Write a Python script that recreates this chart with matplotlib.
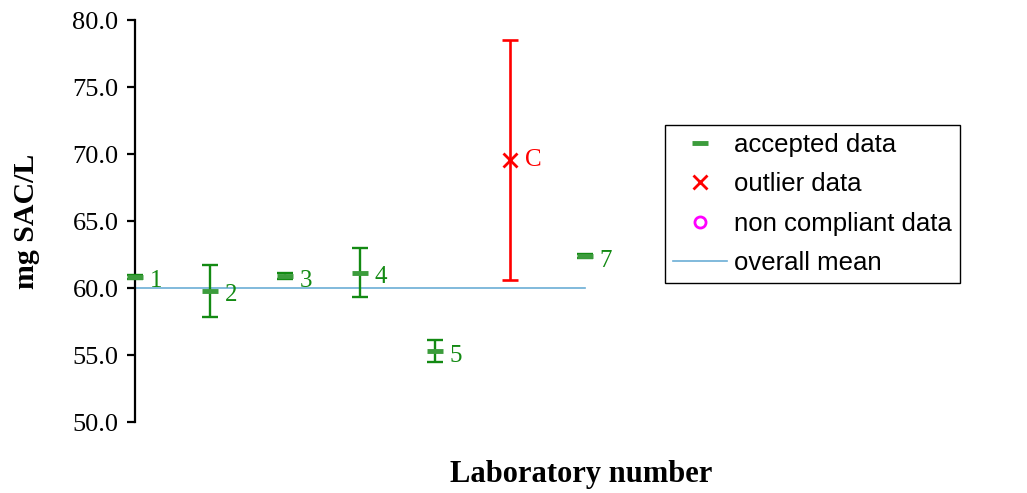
import matplotlib
matplotlib.use("Agg")
import matplotlib.pyplot as plt
from matplotlib.lines import Line2D

# Laboratory results (mg SAC/L) with their reported uncertainties
labs = ["1", "2", "3", "4", "5", "C", "7"]
values = [60.85, 59.8, 60.9, 61.15, 55.3, 69.55, 62.4]
uncert = [0.15, 1.95, 0.25, 1.85, 0.85, 8.95, 0.15]
outlier = [False, False, False, False, False, True, False]
overall_mean = 60.0

SERIF = "Liberation Serif"
SANS = "Liberation Sans"
GREEN_BAR = "#138a13"
GREEN_MARK = "#3c9c3c"

fig = plt.figure(figsize=(10.27, 4.93), dpi=100)
ax = fig.add_axes([0.1315, 0.144, 0.8685, 0.815])

xs = list(range(1, len(labs) + 1))
for x, v, u, lab, out in zip(xs, values, uncert, labs, outlier):
    if out:
        ax.errorbar(x, v, yerr=u, fmt="none", ecolor="#ff0000",
                    elinewidth=1.9, capsize=6, capthick=1.9, zorder=3,
                    clip_on=False)
        ax.plot(x, v, marker="x", color="#ff0000", markersize=10,
                markeredgewidth=2, linestyle="none", zorder=4)
        ax.text(x + 0.2, v, lab, color="#ff0000", fontsize=18,
                family=SERIF, va="center", ha="left")
    else:
        ax.errorbar(x, v, yerr=u, fmt="none", ecolor=GREEN_BAR,
                    elinewidth=1.7, capsize=6, capthick=1.7, zorder=3,
                    clip_on=False)
        ax.plot(x, v, marker="_", color=GREEN_MARK, markersize=11.5,
                markeredgewidth=3.5, linestyle="none", zorder=4,
                clip_on=False)
        ax.text(x + 0.2, v - 0.35, lab, color=GREEN_BAR, fontsize=18,
                family=SERIF, va="center", ha="left")

# overall mean across the participating labs
ax.plot([xs[0], xs[-1]], [overall_mean, overall_mean], color="#6baed6",
        linewidth=1.2, zorder=2)

ax.set_xlim(1, 12.9)
ax.set_ylim(50, 80)
ax.set_yticks([50, 55, 60, 65, 70, 75, 80])
ax.set_yticklabels([f"{t:.1f}" for t in ax.get_yticks()],
                   family=SERIF, fontsize=19)
ax.set_xticks([])
for s in ["top", "right", "bottom"]:
    ax.spines[s].set_visible(False)
ax.spines["left"].set_linewidth(1.6)
ax.tick_params(axis="y", length=6, width=1.6, pad=6)

ax.set_ylabel("mg SAC/L", family=SERIF, fontsize=21.5, fontweight="bold")
ax.yaxis.set_label_coords(-0.107, 0.5)
ax.set_xlabel("Laboratory number", family=SERIF, fontsize=22,
              fontweight="bold")
ax.xaxis.set_label_coords(0.5, -0.095)

handles = [
    Line2D([], [], marker="_", color=GREEN_MARK, markersize=11,
           markeredgewidth=3.5, linestyle="none"),
    Line2D([], [], marker="x", color="#ff0000", markersize=10,
           markeredgewidth=2, linestyle="none"),
    Line2D([], [], marker="o", color="#ff00ff", markerfacecolor="none",
           markersize=8, markeredgewidth=2, linestyle="none"),
    Line2D([], [], color="#6baed6", linewidth=1.2),
]
names = ["accepted data", "outlier data", "non compliant data", "overall mean"]
leg = ax.legend(handles, names, loc="upper left",
                bbox_to_anchor=(0.594, 0.739), borderaxespad=0,
                prop={"family": SANS, "size": 18.5}, fancybox=False,
                edgecolor="black", framealpha=1, handlelength=2.1,
                handletextpad=0.3, labelspacing=0.6, borderpad=0.3)
leg.get_frame().set_linewidth(1.0)

fig.savefig("out.png", dpi=100, facecolor="white")
